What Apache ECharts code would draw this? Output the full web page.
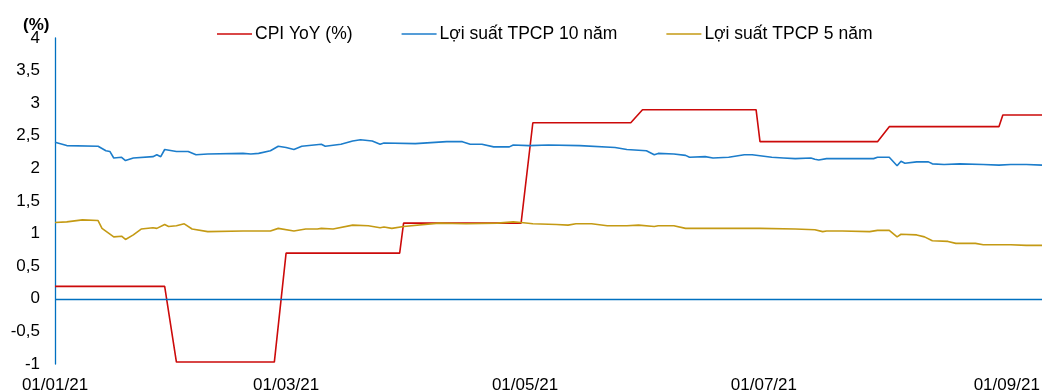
<!DOCTYPE html>
<html>
<head>
<meta charset="utf-8">
<script src="https://cdn.jsdelivr.net/npm/echarts@6/dist/echarts.min.js"></script>
<style>
  html, body { margin: 0; padding: 0; background: #fff; }
  #chart { width: 1043px; height: 392px; }
</style>
</head>
<body>
<div id="chart"></div>
<script>
// Series names shown in the legend
const seriesNames = ['CPI YoY (%)', 'Lợi suất TPCP 10 năm', 'Lợi suất TPCP 5 năm'];

// CPI YoY: monthly figure, held flat until the next release
const cpiDates = ['2021-01-01', '2021-01-29', '2021-02-01', '2021-02-26', '2021-03-01', '2021-03-30',
  '2021-03-31', '2021-04-30', '2021-05-03', '2021-05-28', '2021-05-31', '2021-06-29',
  '2021-06-30', '2021-07-30', '2021-08-02', '2021-08-30', '2021-08-31', '2021-09-10'];
const cpiValues = [0.19, 0.19, -0.97, -0.97, 0.70, 0.70,
  1.16, 1.16, 2.70, 2.70, 2.90, 2.90,
  2.41, 2.41, 2.64, 2.64, 2.82, 2.82];

// 10-year government bond yield (%)
const y10Dates = ['2021-01-01', '2021-01-04', '2021-01-12', '2021-01-14', '2021-01-15', '2021-01-16',
  '2021-01-18', '2021-01-19', '2021-01-21', '2021-01-26', '2021-01-27', '2021-01-28', '2021-01-29',
  '2021-02-01', '2021-02-04', '2021-02-06', '2021-02-09', '2021-02-18', '2021-02-20', '2021-02-22',
  '2021-02-25', '2021-02-27', '2021-03-01', '2021-03-03', '2021-03-05', '2021-03-10', '2021-03-11',
  '2021-03-15', '2021-03-18', '2021-03-20', '2021-03-23', '2021-03-25', '2021-03-26', '2021-04-03',
  '2021-04-11', '2021-04-15', '2021-04-17', '2021-04-20', '2021-04-23', '2021-04-27', '2021-04-28',
  '2021-05-02', '2021-05-07', '2021-05-15', '2021-05-24', '2021-05-27', '2021-06-01', '2021-06-03',
  '2021-06-04', '2021-06-08', '2021-06-11', '2021-06-12', '2021-06-16', '2021-06-18', '2021-06-22',
  '2021-06-26', '2021-06-28', '2021-07-03', '2021-07-06', '2021-07-09', '2021-07-13', '2021-07-14',
  '2021-07-15', '2021-07-17', '2021-07-21', '2021-07-29', '2021-07-30', '2021-08-02', '2021-08-04',
  '2021-08-05', '2021-08-06', '2021-08-09', '2021-08-12', '2021-08-13', '2021-08-16', '2021-08-20',
  '2021-08-26', '2021-08-30', '2021-09-02', '2021-09-06', '2021-09-10'];
const y10Values = [2.40, 2.35, 2.34, 2.27, 2.26, 2.16,
  2.17, 2.12, 2.16, 2.18, 2.21, 2.18, 2.29,
  2.26, 2.26, 2.21, 2.22, 2.23, 2.22, 2.23,
  2.27, 2.34, 2.32, 2.29, 2.34, 2.37, 2.34,
  2.37, 2.42, 2.44, 2.42, 2.37, 2.39, 2.38,
  2.41, 2.41, 2.37, 2.37, 2.33, 2.33, 2.36,
  2.35, 2.36, 2.35, 2.32, 2.29, 2.27, 2.21,
  2.23, 2.22, 2.20, 2.17, 2.18, 2.16, 2.17,
  2.21, 2.21, 2.17, 2.16, 2.15, 2.16, 2.14,
  2.13, 2.15, 2.15, 2.15, 2.17, 2.17, 2.04,
  2.11, 2.08, 2.10, 2.10, 2.07, 2.06, 2.07,
  2.06, 2.05, 2.06, 2.06, 2.05];

// 5-year government bond yield (%)
const y5Dates = ['2021-01-01', '2021-01-04', '2021-01-08', '2021-01-12', '2021-01-13', '2021-01-16',
  '2021-01-18', '2021-01-19', '2021-01-21', '2021-01-23', '2021-01-26', '2021-01-27', '2021-01-29',
  '2021-01-30', '2021-02-01', '2021-02-03', '2021-02-05', '2021-02-09', '2021-02-18', '2021-02-25',
  '2021-02-27', '2021-03-03', '2021-03-06', '2021-03-09', '2021-03-10', '2021-03-13', '2021-03-18',
  '2021-03-22', '2021-03-25', '2021-03-26', '2021-03-28', '2021-03-31', '2021-04-09', '2021-04-16',
  '2021-04-24', '2021-04-28', '2021-04-30', '2021-05-03', '2021-05-09', '2021-05-12', '2021-05-14',
  '2021-05-18', '2021-05-22', '2021-05-27', '2021-05-30', '2021-06-03', '2021-06-04', '2021-06-08',
  '2021-06-11', '2021-06-18', '2021-06-23', '2021-06-30', '2021-07-09', '2021-07-14', '2021-07-16',
  '2021-07-17', '2021-07-21', '2021-07-28', '2021-07-30', '2021-08-02', '2021-08-04', '2021-08-05',
  '2021-08-09', '2021-08-11', '2021-08-13', '2021-08-17', '2021-08-19', '2021-08-24', '2021-08-26',
  '2021-09-02', '2021-09-06', '2021-09-10'];
const y5Values = [1.17, 1.18, 1.21, 1.20, 1.08, 0.95,
  0.96, 0.91, 0.98, 1.07, 1.09, 1.08, 1.14,
  1.11, 1.12, 1.15, 1.07, 1.03, 1.04, 1.04,
  1.08, 1.04, 1.07, 1.07, 1.08, 1.07, 1.13,
  1.12, 1.09, 1.10, 1.08, 1.11, 1.16, 1.15,
  1.16, 1.18, 1.17, 1.15, 1.14, 1.13, 1.15,
  1.15, 1.12, 1.12, 1.13, 1.11, 1.12, 1.12,
  1.08, 1.08, 1.08, 1.08, 1.07, 1.06, 1.03,
  1.04, 1.04, 1.03, 1.05, 1.05, 0.95, 0.99,
  0.98, 0.95, 0.89, 0.88, 0.85, 0.85, 0.83,
  0.83, 0.82, 0.82];

// X axis tick dates and range
const xTickDates = ['2021-01-01', '2021-03-01', '2021-05-01', '2021-07-01', '2021-09-01'];
const xStart = '2021-01-01';
const xEnd = '2021-09-10';

const FONT = '"Liberation Sans", Arial, sans-serif';
const AXIS_BLUE = '#0070C0';
const DAY = 86400000;

// Dates are placed on a day-count scale measured from the first day of the range
function utc(s) {
  const p = s.split('-').map(Number);
  return Date.UTC(p[0], p[1] - 1, p[2]);
}
const origin = utc(xStart);
function toDay(s) { return Math.round((utc(s) - origin) / DAY); }
function pairs(dates, values) {
  return dates.map((d, i) => [toDay(d), values[i]]);
}
function pad2(n) { return (n < 10 ? '0' : '') + n; }
function dayLabel(v) {
  const d = new Date(origin + v * DAY);
  return pad2(d.getUTCDate()) + '/' + pad2(d.getUTCMonth() + 1) + '/' + String(d.getUTCFullYear()).slice(2);
}

const chart = echarts.init(document.getElementById('chart'), null, { renderer: 'canvas' });

const lineSeries = (name, color, data) => ({
  name: name,
  type: 'line',
  data: data,
  symbol: 'none',
  showSymbol: false,
  smooth: false,
  lineStyle: { color: color, width: 1.6 },
  itemStyle: { color: color },
  emphasis: { disabled: true },
  animation: false
});

chart.setOption({
  backgroundColor: '#ffffff',
  animation: false,
  textStyle: { fontFamily: FONT },
  grid: { left: 55, right: 1, top: 38, bottom: 28, containLabel: false, outerBoundsMode: 'none' },
  legend: {
    left: 212,
    top: 20,
    icon: 'rect',
    itemWidth: 35,
    itemHeight: 1.6,
    itemGap: 49,
    data: seriesNames,
    textStyle: { fontFamily: FONT, fontSize: 17.5, color: '#000', padding: [0, 0, 0, -2] }
  },
  graphic: [{
    type: 'text',
    left: 23,
    top: 17,
    style: { text: '(%)', font: 'bold 17px ' + FONT, fill: '#000' }
  }],
  xAxis: {
    type: 'value',
    min: toDay(xStart),
    max: toDay(xEnd),
    axisLine: { show: false, onZero: false },
    axisTick: { show: false },
    splitLine: { show: false },
    axisLabel: {
      customValues: xTickDates.map(toDay),
      margin: 13,
      fontSize: 17,
      fontFamily: FONT,
      color: '#000',
      formatter: dayLabel
    }
  },
  yAxis: {
    type: 'value',
    min: -1,
    max: 4,
    interval: 0.5,
    axisLine: { show: true, lineStyle: { color: AXIS_BLUE, width: 1.3 } },
    axisTick: { show: false },
    splitLine: { show: false },
    axisLabel: {
      margin: 15,
      fontSize: 17,
      fontFamily: FONT,
      color: '#000',
      formatter: function (v) { return String(v).replace('.', ','); }
    }
  },
  series: [
    Object.assign(lineSeries(seriesNames[0], '#CC0A0A', pairs(cpiDates, cpiValues)), {
      markLine: {
        silent: true,
        symbol: 'none',
        label: { show: false },
        lineStyle: { color: AXIS_BLUE, width: 1.3, type: 'solid' },
        data: [{ yAxis: 0 }],
        animation: false
      },
      z: 3
    }),
    lineSeries(seriesNames[1], '#1C7DCB', pairs(y10Dates, y10Values)),
    lineSeries(seriesNames[2], '#C49A14', pairs(y5Dates, y5Values))
  ]
});
</script>
</body>
</html>
